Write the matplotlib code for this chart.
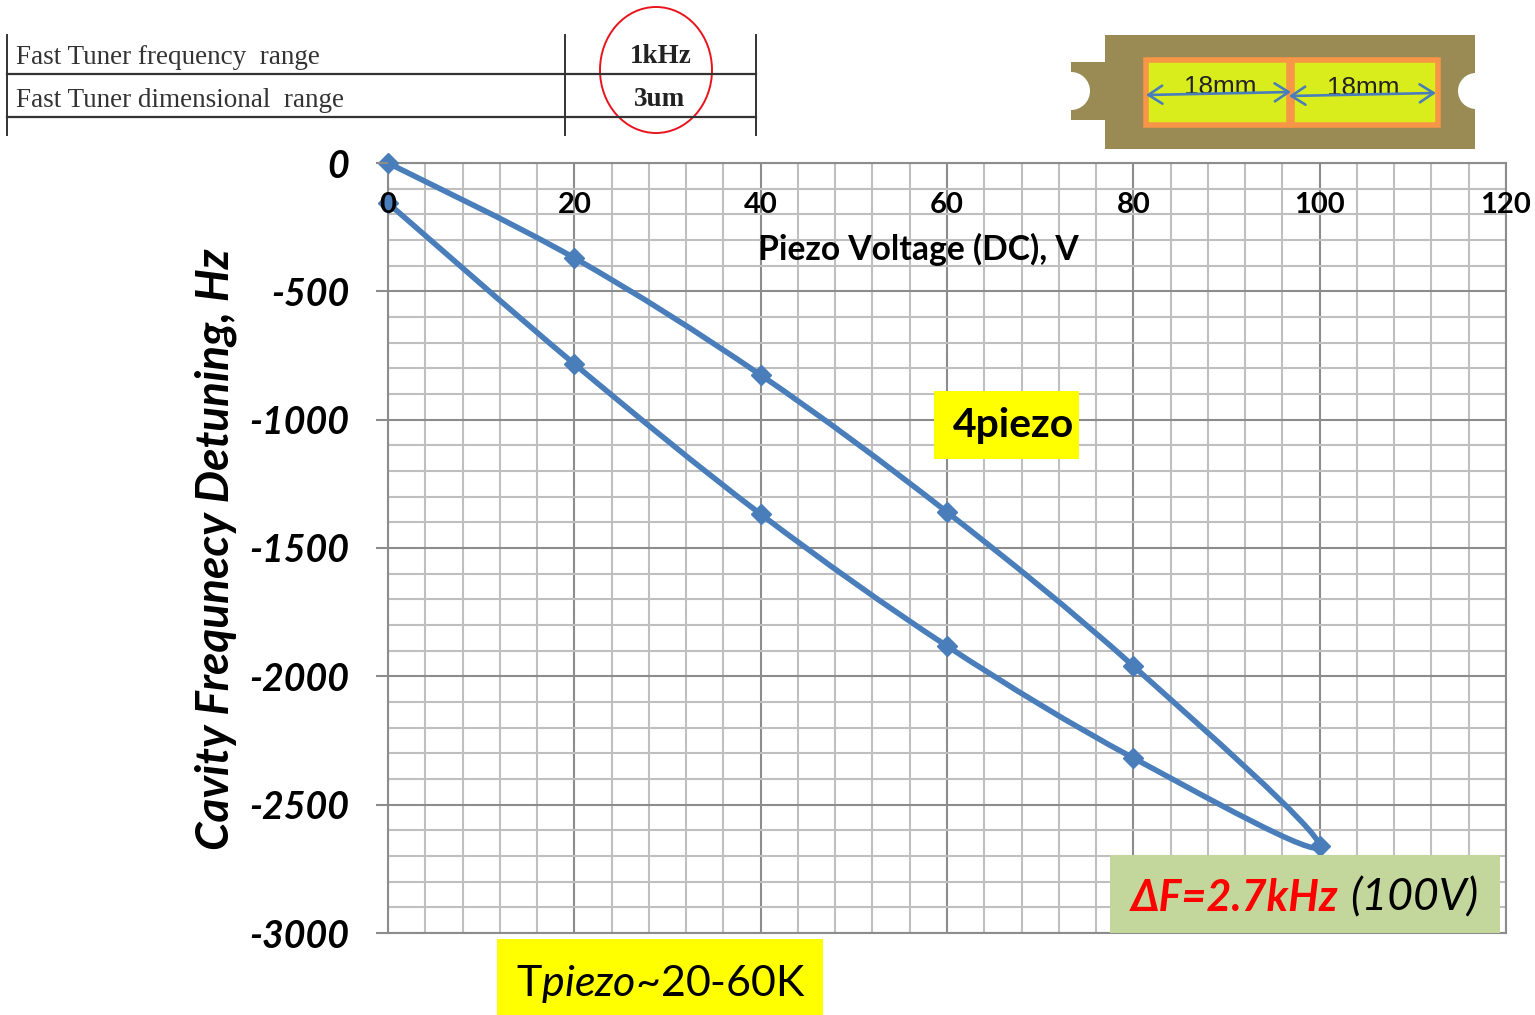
import matplotlib
matplotlib.use('Agg')
import numpy as np
import matplotlib.pyplot as plt
from matplotlib.patches import Rectangle, Ellipse, Circle, PathPatch
from matplotlib.path import Path
from matplotlib.ticker import MultipleLocator

plt.rcParams['font.family'] = ['Lato', 'DejaVu Sans']
plt.rcParams['mathtext.fontset'] = 'custom'
plt.rcParams['mathtext.it'] = 'Lato:italic'
plt.rcParams['mathtext.rm'] = 'Lato'
plt.rcParams['axes.unicode_minus'] = False

# voltage going up then back down
voltage = [0, 20, 40, 60, 80, 100, 80, 60, 40, 20, 0]
detuning = [0, -370, -826, -1360, -1960, -2661, -2318, -1882, -1368, -783, -156]

x_ticks = [0, 20, 40, 60, 80, 100, 120]
y_ticks = [0, -500, -1000, -1500, -2000, -2500, -3000]

BLUE = '#4A7EBB'
W, H = 1535, 1015

fig = plt.figure(figsize=(W / 100, H / 100), dpi=100)
rect = [388 / W, 1 - 933 / H, (1506 - 388) / W, (933 - 163) / H]

# grid lives on its own axes so the labels stay on top of it
bg = fig.add_axes(rect, zorder=1)
bg.set_xlim(0, 120)
bg.set_ylim(-3000, 0)
bg.xaxis.set_major_locator(MultipleLocator(20))
bg.xaxis.set_minor_locator(MultipleLocator(4))
bg.yaxis.set_major_locator(MultipleLocator(500))
bg.yaxis.set_minor_locator(MultipleLocator(100))
bg.grid(which='minor', color='#BFBFBF', lw=1.5)
bg.grid(which='major', color='#8C8C8C', lw=1.5)
bg.tick_params(which='both', length=0, labelbottom=False, labelleft=False)
for s in bg.spines.values():
    s.set_color('#8C8C8C')
    s.set_linewidth(1.5)

ax = fig.add_axes(rect, zorder=2)
ax.patch.set_alpha(0)
ax.set_xlim(0, 120)
ax.set_ylim(-3000, 0)
ax.set_axisbelow(False)
ax.spines['bottom'].set_position(('data', 0))
for s in ax.spines.values():
    s.set_visible(False)

ax.set_xticks(x_ticks)
ax.set_yticks(y_ticks)
ax.tick_params(axis='x', length=0, pad=21, labelsize=21)
ax.tick_params(axis='y', length=9, width=1.5, color='#8C8C8C', pad=19, labelsize=27)
for t in ax.get_xticklabels():
    t.set_fontweight('bold')
for t in ax.get_yticklabels():
    t.set_fontweight('bold')
    t.set_fontstyle('italic')
    t.set_verticalalignment('center_baseline')

ax.set_xlabel('Piezo Voltage (DC), V', fontsize=24.2, fontweight='bold')
ax.xaxis.set_label_coords(0.474, 0.909)

# smoothed line through the points, like the spreadsheet does
pts = np.column_stack([voltage, detuning]).astype(float)
verts = [pts[0]]
codes = [Path.MOVETO]
for i in range(len(pts) - 1):
    before = pts[max(i - 1, 0)]
    after = pts[min(i + 2, len(pts) - 1)]
    verts += [pts[i] + (pts[i + 1] - before) / 6, pts[i + 1] - (after - pts[i]) / 6, pts[i + 1]]
    codes += [Path.CURVE4] * 3
ax.add_patch(PathPatch(Path(verts, codes), fc='none', ec=BLUE, lw=4, clip_on=False, zorder=1.5))
ax.plot(voltage, detuning, ls='none', marker='D', ms=10.5, color=BLUE, clip_on=False, zorder=2)

# everything around the chart sits on a pixel overlay
ov = fig.add_axes([0, 0, 1, 1], zorder=5)
ov.set_xlim(0, W)
ov.set_ylim(H, 0)
ov.axis('off')
ov.patch.set_alpha(0)

ov.text(216, 549, 'Cavity Frequnecy Detuning, Hz', rotation=90, ha='center', va='center',
        fontsize=33, fontweight='bold', fontstyle='italic')

# table
for y in [74, 117]:
    ov.plot([7, 756], [y, y], color='#333333', lw=1.6)
for x in [7, 565, 756]:
    ov.plot([x, x], [35, 135], color='#333333', lw=1.4)
ov.text(16, 57, 'Fast Tuner frequency  range', family='Liberation Serif', fontsize=19.5, color='#333333', va='center')
ov.text(16, 100, 'Fast Tuner dimensional  range', family='Liberation Serif', fontsize=19.5, color='#333333', va='center')
ov.text(661, 56, '1kHz', family='Liberation Serif', fontsize=19.5, fontweight='bold', color='#222222', ha='center', va='center')
ov.text(660, 99, '3um', family='Liberation Serif', fontsize=19.5, fontweight='bold', color='#222222', ha='center', va='center')
ov.add_patch(Ellipse((656, 70), 112, 126, fc='none', ec='#E8141C', lw=1.4))

# piezo sketch
ov.add_patch(Rectangle((1105, 35), 370, 114, fc='#9A8B55', ec='none'))
ov.add_patch(Rectangle((1071, 62), 34, 58, fc='#9A8B55', ec='none'))
ov.add_patch(Circle((1071, 91), 19, fc='white', ec='none'))
ov.add_patch(Circle((1476, 91), 18, fc='white', ec='none'))
ov.add_patch(Rectangle((1146, 60), 143, 65, fc='#D9EC1C', ec='#F79646', lw=4))
ov.add_patch(Rectangle((1292, 60), 146, 65, fc='#D9EC1C', ec='#F79646', lw=4))
ov.text(1220, 87, '18mm', fontsize=18.8, family='Liberation Sans', color='#222222', ha='center', va='center')
ov.text(1363, 88, '18mm', fontsize=18.8, family='Liberation Sans', color='#222222', ha='center', va='center')
for x0, y0, x1, y1 in [(1146, 95, 1291, 92), (1289, 96, 1436, 93)]:
    ov.annotate('', xy=(x0, y0), xytext=(x1, y1), arrowprops=dict(arrowstyle='<->,head_length=1.0,head_width=0.65',
                color=BLUE, lw=1.9, shrinkA=0, shrinkB=0))

# callouts
ov.add_patch(Rectangle((934, 391), 145, 68, fc='#FFFF00', ec='none'))
ov.text(1014, 426, '4piezo', fontsize=29.4, fontweight='bold', ha='center', va='center')
ov.add_patch(Rectangle((497, 939), 326, 76, fc='#FFFF00', ec='none'))
ov.text(661, 984, r'T$\mathit{piezo}$~20-60K', fontsize=31, ha='center', va='center')
ov.add_patch(Rectangle((1110, 855), 390, 78, fc='#C3D69B', ec='none'))
ov.text(1338, 898, '\u0394F=2.7kHz', fontsize=31, fontweight='bold', fontstyle='italic', color='#FF0000', ha='right', va='center')
ov.text(1350, 898, '(100V)', fontsize=32, fontstyle='italic', color='black', ha='left', va='center')

fig.savefig('out.png', dpi=100)
